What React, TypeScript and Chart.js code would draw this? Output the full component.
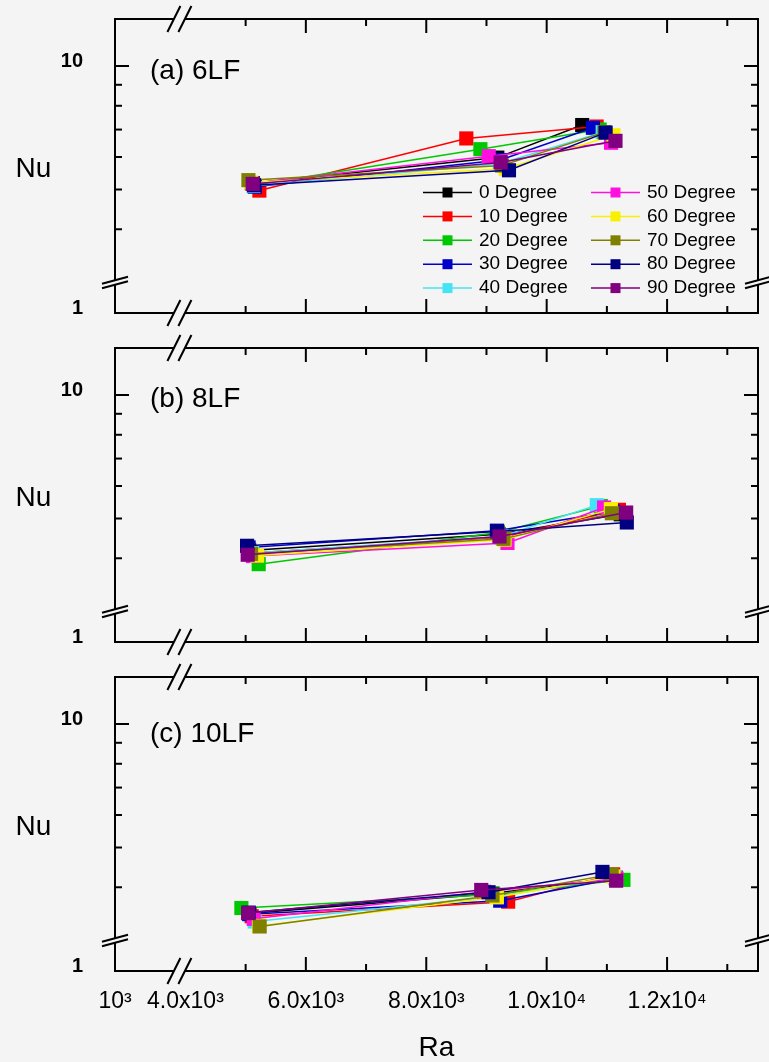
import React, { useEffect, useRef } from 'react';
import { Chart, registerables } from 'chart.js';

Chart.register(...registerables);

const FONT = '"Liberation Sans", Arial, Helvetica, sans-serif';
const BG = '#f4f4f4';

// ---------------- data ----------------
const seriesNames = ['0 Degree', '10 Degree', '20 Degree', '30 Degree', '40 Degree', '50 Degree', '60 Degree', '70 Degree', '80 Degree', '90 Degree'];
const seriesColors = ['#000000', '#ff0000', '#00c800', '#0000c8', '#44e4f4', '#ff10e0', '#f8f000', '#808000', '#000080', '#800080'];
const panelTitles = ['(a) 6LF', '(b) 8LF', '(c) 10LF'];

// Panel (a) 6LF : Ra and Nu for each series (low, mid, high)
const raA = [
  [5120, 9180, 10590], [5228, 8665, 10830], [5140, 8899, 10880], [5152, 9230, 10768], [5130, 9220, 10930],
  [5100, 9037, 11070], [5090, 9320, 11110], [5046, 9260, 10960], [5140, 9374, 10979], [5117, 9236, 11143],
];
const nuA = [
  [5.18, 5.98, 7.18], [4.97, 6.66, 7.12], [5.13, 6.27, 7.0], [5.08, 5.9, 7.07], [5.1, 5.78, 6.9],
  [5.18, 6.03, 6.5], [5.2, 5.62, 6.78], [5.27, 5.72, 6.9], [5.12, 5.57, 6.88], [5.16, 5.82, 6.57],
];
// Panel (b) 8LF
const raB = [
  [5060, 9200, 11230], [5110, 9260, 11200], [5217, 9190, 10900], [5050, 9173, 11100], [5110, 9250, 10833],
  [5120, 9349, 10954], [5190, 9300, 11066], [5090, 9283, 11082], [5024, 9180, 11331], [5034, 9216, 11320],
];
const nuB = [
  [4.18, 4.58, 5.12], [4.12, 4.5, 5.25], [3.87, 4.62, 5.36], [4.25, 4.67, 5.2], [4.12, 4.52, 5.39],
  [4.05, 4.36, 5.32], [4.06, 4.44, 5.27], [4.1, 4.46, 5.15], [4.29, 4.65, 4.89], [4.08, 4.52, 5.17],
];
// Panel (c) 10LF
const raC = [
  [5060, 9100, 11150], [5100, 9360, 11104], [4929, 9120, 11275], [5060, 9228, 11150], [5150, 9160, 11140],
  [5134, 8960, 11160], [5220, 9173, 11110], [5233, 9100, 11080], [5050, 9034, 10926], [5041, 8913, 11154],
];
const nuC = [
  [3.45, 3.86, 4.22], [3.4, 3.69, 4.3], [3.56, 3.84, 4.17], [3.44, 3.71, 4.2], [3.3, 3.8, 4.22],
  [3.35, 3.9, 4.2], [3.22, 3.78, 4.25], [3.21, 3.82, 4.3], [3.47, 3.89, 4.36], [3.46, 3.94, 4.15],
];

// axes
const xTickValues = [2830, 4000, 6000, 8000, 10000, 12000];
const xTickLabels = ['10\u00b3', '4.0x10\u00b3', '6.0x10\u00b3', '8.0x10\u00b3', '1.0x10\u2074', '1.2x10\u2074'];
const xMajorMarks = [6000, 8000, 10000, 12000];
const xMinorMarks = [5000, 7000, 9000, 11000, 13000];
const yTickValues = [2.5, 10];
const yTickLabels = ['1', '10'];
const yMajorMarks = [10];
const yMinorMarks = [4, 5, 6, 7, 8, 9];
const X_MIN = 2830;
const X_MAX = 13510;
const Y_MIN = 2.5;
const Y_MAX = 13.02;
const X_BREAK = 3900;
const Y_BREAK = 3;

const panelRa = [raA, raB, raC];
const panelNu = [nuA, nuB, nuC];

// ---------------- layout ----------------
const W = 769;
const PANEL_TOP = [0, 329, 658];
const PANEL_H = [329, 329, 404];
const AREA_TOP = 19;
const AREA_H = 294;
const AREA_LEFT = 115;
const AREA_RIGHT_PAD = 11;
const TITLE_BASE = [60, 59, 65];

function line(ctx: CanvasRenderingContext2D, x1: number, y1: number, x2: number, y2: number) {
  ctx.beginPath();
  ctx.moveTo(x1, y1);
  ctx.lineTo(x2, y2);
  ctx.stroke();
}

function drawYBreak(ctx: CanvasRenderingContext2D, x: number, y: number) {
  const dx = 13, dy = 3.5, g = 4.5;
  ctx.fillStyle = BG;
  ctx.beginPath();
  ctx.moveTo(x - dx, y + dy - g / 2);
  ctx.lineTo(x + dx, y - dy - g / 2);
  ctx.lineTo(x + dx, y - dy + g / 2);
  ctx.lineTo(x - dx, y + dy + g / 2);
  ctx.closePath();
  ctx.fill();
  line(ctx, x - dx, y + dy - g / 2, x + dx, y - dy - g / 2);
  line(ctx, x - dx, y + dy + g / 2, x + dx, y - dy + g / 2);
}

function drawXBreak(ctx: CanvasRenderingContext2D, x: number, y: number) {
  const hw = 6.5, hh = 13, off = 5.5;
  ctx.fillStyle = BG;
  ctx.beginPath();
  ctx.moveTo(x - off - hw, y + hh);
  ctx.lineTo(x - off + hw, y - hh);
  ctx.lineTo(x + off + hw, y - hh);
  ctx.lineTo(x + off - hw, y + hh);
  ctx.closePath();
  ctx.fill();
  line(ctx, x - off - hw, y + hh, x - off + hw, y - hh);
  line(ctx, x + off - hw, y + hh, x + off + hw, y - hh);
}

function decorPlugin(panel: number) {
  return {
    id: 'decor' + panel,
    afterDraw(chart: any) {
      const { ctx, chartArea: a, scales } = chart;
      const xs = scales.x;
      const ys = scales.y;
      ctx.save();
      ctx.strokeStyle = '#000';
      ctx.lineWidth = 2;
      ctx.strokeRect(a.left, a.top, a.right - a.left, a.bottom - a.top);
      // y ticks (inward, both sides)
      const yMarks = [...yMajorMarks.map((v) => [v, 14]), ...yMinorMarks.map((v) => [v, 7])];
      yMarks.forEach(([v, len]) => {
        const py = ys.getPixelForValue(v);
        line(ctx, a.left, py, a.left + len, py);
        line(ctx, a.right, py, a.right - len, py);
      });
      const xMarks = [...xMajorMarks.map((v) => [v, 14]), ...xMinorMarks.map((v) => [v, 7])];
      xMarks.forEach(([v, len]) => {
        const px = xs.getPixelForValue(v);
        line(ctx, px, a.bottom, px, a.bottom - len);
        line(ctx, px, a.top, px, a.top + len);
      });
      // breaks
      const yb = ys.getPixelForValue(Y_BREAK) + 2;
      drawYBreak(ctx, a.left, yb);
      drawYBreak(ctx, a.right, yb);
      const xb = xs.getPixelForValue(X_BREAK);
      drawXBreak(ctx, xb, a.top);
      drawXBreak(ctx, xb, a.bottom);
      // axis title Nu
      ctx.fillStyle = '#000';
      ctx.font = `28px ${FONT}`;
      ctx.textAlign = 'center';
      ctx.textBaseline = 'middle';
      ctx.fillText('Nu', 33.5, (a.top + a.bottom) / 2 + 3);
      // panel title
      ctx.textAlign = 'left';
      ctx.textBaseline = 'alphabetic';
      ctx.fillText(panelTitles[panel], 150, a.top + TITLE_BASE[panel]);
      // legend
      if (panel === 0) {
        ctx.font = `19px ${FONT}`;
        ctx.textBaseline = 'middle';
        ctx.lineWidth = 1.5;
        seriesNames.forEach((name, i) => {
          const col = Math.floor(i / 5);
          const row = i % 5;
          const x0 = col === 0 ? 423 : 591;
          const y = 192.5 + row * 23.9;
          ctx.strokeStyle = seriesColors[i];
          line(ctx, x0, y, x0 + 49, y);
          ctx.fillStyle = seriesColors[i];
          ctx.fillRect(x0 + 24.5 - 5, y - 5, 10, 10);
          ctx.fillStyle = '#000';
          ctx.fillText(name, x0 + 56, y);
        });
      }
      ctx.restore();
    },
  };
}

function makeConfig(panel: number): any {
  const ra = panelRa[panel];
  const nu = panelNu[panel];
  const isLast = panel === 2;
  const h = PANEL_H[panel];
  const datasets = seriesNames.map((name, i) => ({
    label: name,
    data: ra[i].map((x, j) => ({ x, y: nu[i][j] })),
    borderColor: seriesColors[i],
    backgroundColor: seriesColors[i],
    borderWidth: 1.5,
    pointStyle: 'rect',
    pointRadius: 10,
    pointBorderWidth: 0,
    pointHoverRadius: 10,
    tension: 0,
    order: seriesNames.length - i,
  }));
  return {
    type: 'line',
    data: { datasets },
    options: {
      animation: false,
      responsive: false,
      events: [],
      layout: { autoPadding: false, padding: { top: AREA_TOP, right: AREA_RIGHT_PAD, left: 0, bottom: 0 } },
      plugins: { legend: { display: false }, tooltip: { enabled: false } },
      scales: {
        x: {
          type: 'linear',
          min: X_MIN,
          max: X_MAX,
          grid: { display: false, drawTicks: false },
          border: { display: false },
          afterBuildTicks: (s: any) => {
            s.ticks = xTickValues.map((v) => ({ value: v }));
          },
          afterFit: (s: any) => {
            s.height = h - AREA_TOP - AREA_H;
            s.paddingLeft = 0;
            s.paddingRight = 0;
            s.paddingTop = 0;
            s.paddingBottom = 0;
          },
          ticks: {
            display: isLast,
            autoSkip: false,
            maxRotation: 0,
            padding: 17,
            color: '#000',
            font: { family: FONT, size: 23 },
            callback: (_v: any, i: number) => xTickLabels[i],
          },
          title: {
            display: isLast,
            text: 'Ra',
            color: '#000',
            font: { family: FONT, size: 28, lineHeight: 1 },
            padding: { top: 0, bottom: 0 },
          },
        },
        y: {
          type: 'logarithmic',
          min: Y_MIN,
          max: Y_MAX,
          grid: { display: false, drawTicks: false },
          border: { display: false },
          afterBuildTicks: (s: any) => {
            s.ticks = yTickValues.map((v) => ({ value: v }));
          },
          afterFit: (s: any) => {
            s.width = AREA_LEFT;
            s.paddingLeft = 0;
            s.paddingRight = 0;
            s.paddingTop = 0;
            s.paddingBottom = 0;
          },
          ticks: {
            autoSkip: false,
            padding: 32,
            color: '#000',
            font: { family: FONT, size: 20, weight: 'bold', lineHeight: 0.45 },
            callback: (_v: any, i: number) => [yTickLabels[i], ''],
          },
        },
      },
    },
    plugins: [decorPlugin(panel)],
  };
}

function Panel({ panel }: { panel: number }) {
  const ref = useRef<HTMLCanvasElement | null>(null);
  useEffect(() => {
    if (!ref.current) return;
    const chart = new Chart(ref.current, makeConfig(panel));
    return () => chart.destroy();
  }, [panel]);
  return (
    <canvas
      ref={ref}
      width={W}
      height={PANEL_H[panel]}
      style={{ position: 'absolute', left: 0, top: PANEL_TOP[panel], width: W, height: PANEL_H[panel] }}
    />
  );
}

export default function App() {
  return (
    <div style={{ position: 'absolute', left: 0, top: 0, width: W, height: 1062, background: BG, overflow: 'hidden' }}>
      <Panel panel={0} />
      <Panel panel={1} />
      <Panel panel={2} />
    </div>
  );
}
